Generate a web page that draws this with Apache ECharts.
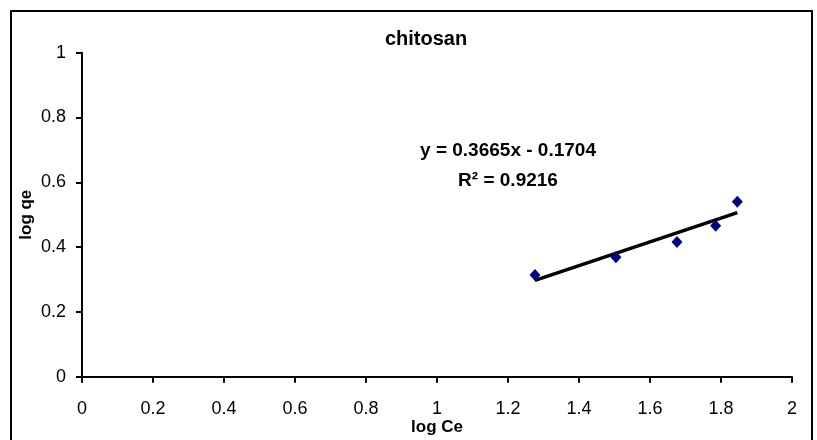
<!DOCTYPE html>
<html>
<head>
<meta charset="utf-8">
<script src="https://cdn.jsdelivr.net/npm/echarts@6/dist/echarts.min.js"></script>
<style>
  html, body { margin: 0; padding: 0; background: #fff; }
  #chart { width: 817px; height: 440px; }
</style>
</head>
<body>
<div id="chart"></div>
<script>
// Freundlich isotherm for chitosan: log qe versus log Ce
const logCe = [1.276, 1.504, 1.676, 1.785, 1.846];
const logQe = [0.314, 0.369, 0.416, 0.466, 0.540];

// Linear fit reported on the chart
const fitSlope = [0.3665];
const fitIntercept = [-0.1704];
const fitR2 = [0.9216];

const xTicks = [0, 0.2, 0.4, 0.6, 0.8, 1, 1.2, 1.4, 1.6, 1.8, 2];
const yTicks = [0, 0.2, 0.4, 0.6, 0.8, 1];

const FONT = '"Liberation Sans", Arial, sans-serif';

const points = logCe.map((x, i) => [x, logQe[i]]);
const xMin = Math.min(...logCe);
const xMax = Math.max(...logCe);
const fitLine = [xMin, xMax].map(x => [x, fitSlope[0] * x + fitIntercept[0]]);

const eqText = 'y = ' + fitSlope[0].toFixed(4) + 'x - ' + Math.abs(fitIntercept[0]).toFixed(4);
const r2Text = 'R² = ' + fitR2[0].toFixed(4);

const chart = echarts.init(document.getElementById('chart'), null, { renderer: 'canvas' });

const axisCommon = {
  type: 'value',
  axisLine: { show: true, onZero: false, lineStyle: { color: '#000', width: 2 } },
  axisTick: { show: true, inside: false, length: 6, lineStyle: { color: '#000', width: 2 } },
  splitLine: { show: false },
  nameMoveOverlap: false,
  nameTextStyle: { color: '#000', fontFamily: FONT, fontWeight: 'bold', fontSize: 17 },
  axisLabel: { color: '#000', fontFamily: FONT, fontSize: 18 }
};

chart.setOption({
  backgroundColor: '#fff',
  animation: false,
  title: {
    text: 'chitosan',
    left: 421,
    top: 24,
    textAlign: 'center',
    textStyle: { color: '#000', fontFamily: FONT, fontWeight: 'bold', fontSize: 20 }
  },
  grid: {
    left: 82, right: 25, top: 52.7, bottom: 63.3,
    containLabel: false,
    outerBoundsMode: 'none'
  },
  xAxis: Object.assign({}, axisCommon, {
    min: 0, max: 2, interval: 0.2,
    name: 'log Ce', nameLocation: 'middle', nameGap: 42,
    axisLabel: Object.assign({}, axisCommon.axisLabel, {
      margin: 23,
      formatter: v => {
        const t = xTicks.find(t => Math.abs(t - v) < 1e-9);
        return t === undefined ? '' : String(t);
      }
    })
  }),
  yAxis: Object.assign({}, axisCommon, {
    min: 0, max: 1, interval: 0.2,
    name: 'log qe', nameLocation: 'middle', nameGap: 47,
    axisLabel: Object.assign({}, axisCommon.axisLabel, {
      margin: 16,
      formatter: v => {
        const t = yTicks.find(t => Math.abs(t - v) < 1e-9);
        return t === undefined ? '' : String(t);
      }
    })
  }),
  series: [
    {
      name: 'fit',
      type: 'line',
      data: fitLine,
      symbol: 'none',
      lineStyle: { color: '#000', width: 3.5 },
      z: 2
    },
    {
      name: 'log qe',
      type: 'scatter',
      data: points,
      symbol: 'diamond',
      symbolSize: [11, 12],
      itemStyle: { color: '#000080', opacity: 1 },
      z: 3
    }
  ]
});

// Equation and R² annotation anchored in data space
const eqPos = chart.convertToPixel({ gridIndex: 0 }, [1.2, 0.697]);
const r2Pos = chart.convertToPixel({ gridIndex: 0 }, [1.2, 0.605]);

chart.setOption({
  graphic: [
    {
      type: 'rect',
      shape: { x: 11, y: 11, width: 801, height: 440 },
      style: { fill: 'none', stroke: '#000', lineWidth: 2 },
      silent: true,
      z: 0
    },
    {
      type: 'text',
      x: eqPos[0], y: eqPos[1],
      style: {
        text: eqText, fill: '#000', font: 'bold 19px ' + FONT,
        textAlign: 'center', textVerticalAlign: 'middle'
      }
    },
    {
      type: 'text',
      x: r2Pos[0], y: r2Pos[1],
      style: {
        text: r2Text, fill: '#000', font: 'bold 19px ' + FONT,
        textAlign: 'center', textVerticalAlign: 'middle'
      }
    }
  ]
});
</script>
</body>
</html>
